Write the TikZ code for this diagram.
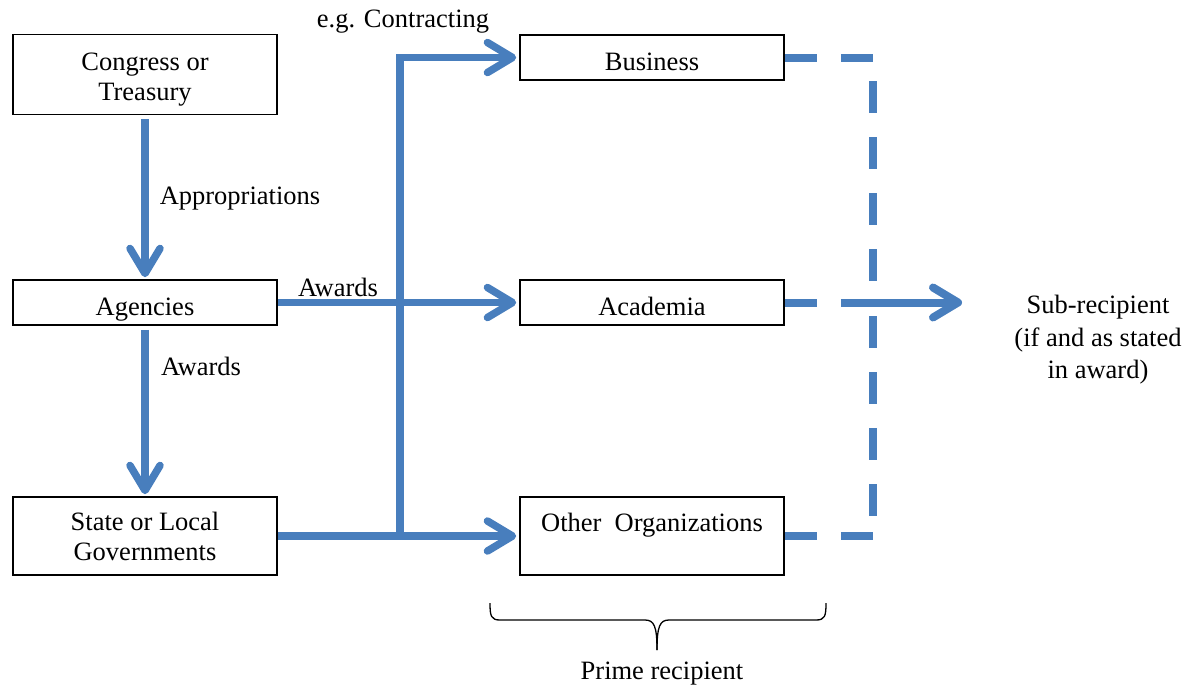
\documentclass[tikz,border=0pt]{standalone}
\usepackage{fontspec}
\setmainfont{Liberation Serif}
\usetikzlibrary{arrows.meta}
\definecolor{flowblue}{RGB}{72,126,189}
\newcommand\boxtext[2]{\raisebox{#1}[\height][\depth]{\begin{tabular}{@{}c@{}}#2\end{tabular}}}
\begin{document}
\begin{tikzpicture}[x=1pt,y=-1pt,
  font=\fontsize{26.5}{30}\selectfont,
  box/.style={draw=black,line width=1.6pt,minimum width=264pt,inner sep=0pt,align=center},
  flow/.style={draw=flowblue,line width=7.5pt},
  tipped/.style={-{Straight Barb[length=25pt,width=30pt,line cap=round,line join=round]}},
  dashflow/.style={draw=flowblue,line width=8pt,dash pattern=on 32pt off 24pt},
  lbl/.style={inner sep=0pt}]
\useasboundingbox (0,0) rectangle (1190,689);

% boxes
\node[box,minimum height=80pt] (congress) at (145,74.5) {\boxtext{-4.5pt}{Congress or\\Treasury}};
\node[box,minimum height=45pt] (agencies) at (145,302.5) {\boxtext{-6.5pt}{Agencies}};
\node[box,minimum height=78pt] (state) at (145,536) {\boxtext{-3pt}{State or Local\\Governments}};
\node[box,minimum height=45pt] (business) at (652,57.5) {\boxtext{-6.5pt}{Business}};
\node[box,minimum height=45pt] (academia) at (652,302.5) {\boxtext{-6.5pt}{Academia}};
\node[box,minimum height=78pt] (other) at (652,536) {\boxtext{11pt}{Other\ \ Organizations}};

% labels
\node[lbl] (contracting) at (403,22) {e.g. Contracting};
\node[lbl] (approp) at (240,199) {Appropriations};
\node[lbl] (awardsH) at (338,287) {Awards};
\node[lbl] (awardsV) at (201,366) {Awards};
\node[lbl,align=center,font=\fontsize{26.5}{32.5}\selectfont] (sub) at (1098,340) {Sub-recipient\\(if and as stated\\in award)};
\node[lbl] (prime) at (662,674) {Prime recipient};

% solid connectors
\draw[flow,tipped,shorten <=4pt,shorten >=2pt] (congress.south) -- (agencies.north);
\draw[flow,tipped,shorten <=4pt,shorten >=2pt] (agencies.south) -- (state.north);
\draw[flow,tipped,shorten >=3pt] (agencies.east) -- (academia.west);
\coordinate (junction) at (400,536);
\draw[flow,tipped,shorten >=3pt] (state.east) -- (junction) -- (other.west);
\draw[flow,tipped,shorten >=3pt] (junction) |- (business.west);

% dashed connectors
\coordinate (dtop) at (876,57.5);
\coordinate (vtop) at (873,81);
\coordinate (vmidA) at (873,281);
\coordinate (vmidB) at (873,316);
\coordinate (vbot) at (873,516);
\coordinate (dbot) at (876,536);
\draw[dashflow] (business.east) -- (dtop);
\draw[dashflow] (vtop) -- (vmidA);
\draw[dashflow] (vmidB) -- (vbot);
\draw[dashflow] (other.east) -- (dbot);
\coordinate (subtip) at (962,302.5);
\draw[dashflow,dash pattern=on 32pt off 24pt on 300pt,tipped] (academia.east) -- (subtip);

% brace
\draw[line width=1.3pt] (490,603) .. controls (490,616) and (491,620) .. (500,620) -- (645,620)
  .. controls (654,620) and (657,626) .. (657,650);
\draw[line width=1.3pt] (826,603) .. controls (826,616) and (825,620) .. (816,620) -- (669,620)
  .. controls (660,620) and (657,626) .. (657,650);
\end{tikzpicture}
\end{document}
